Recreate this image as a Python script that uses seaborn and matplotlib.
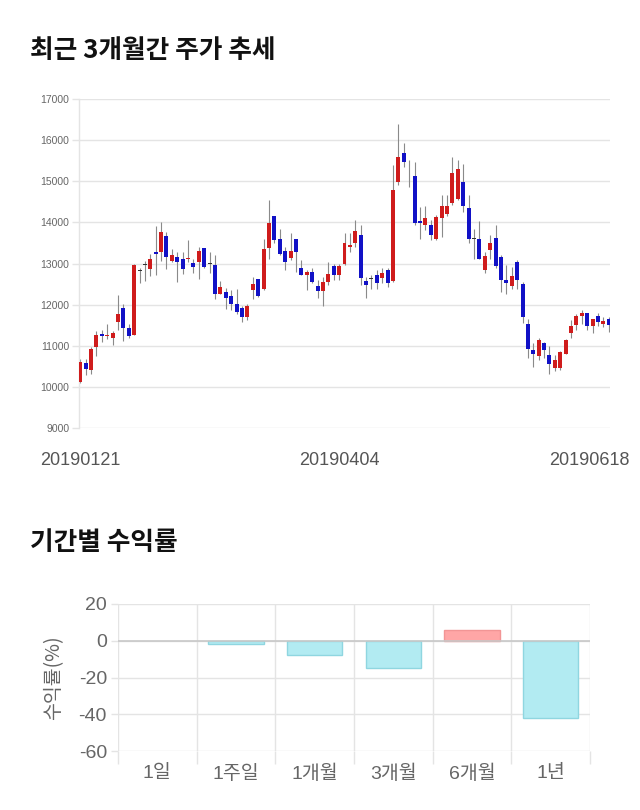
import matplotlib
matplotlib.use("Agg")
import matplotlib.pyplot as plt
import seaborn as sns
import numpy as np
import pandas as pd

# ---------------- data ----------------
opens = [10120, 10570, 10420, 10980, 11280, 11230, 11180, 11570, 11920, 11420,
         11270, 12820, 12970, 12860, 13270, 13270, 13660, 13050, 13170, 13110,
         13100, 13010, 13030, 13370, 12990, 12960, 12270, 12310, 12220, 12010,
         11910, 11710, 12360, 12620, 12390, 13380, 14150, 13590, 13300, 13140,
         13590, 12900, 12730, 12790, 12450, 12340, 12540, 12940, 12720, 12990,
         13390, 13490, 13690, 12580, 12630, 12730, 12640, 12840, 12580, 14990,
         15680, 15290, 15130, 14030, 13930, 13930, 13590, 14100, 14200, 14480,
         14580, 14990, 14340, 13590, 13590, 12840, 13340, 13630, 13150, 12600,
         12450, 13040, 12500, 11540, 10890, 10750, 11060, 10770, 10450, 10450,
         10800, 11300, 11500, 11730, 11790, 11480, 11730, 11540, 11640]
highs = [10680, 10680, 10960, 11370, 11380, 11520, 11360, 12230, 12010, 11530,
         12990, 12900, 13070, 13230, 13920, 14020, 13760, 13350, 13270, 13270,
         13580, 13110, 13390, 13380, 13270, 13210, 12580, 12400, 12360, 12380,
         11970, 12010, 12660, 12630, 13590, 14540, 14150, 13850, 13410, 13750,
         13600, 13080, 12840, 12880, 12610, 12680, 13040, 12990, 12990, 13750,
         13730, 14060, 13930, 12680, 12720, 12840, 12880, 12880, 15390, 16390,
         15920, 15520, 15480, 14380, 14400, 14060, 14180, 14660, 14660, 15600,
         15520, 15430, 14660, 13850, 14040, 13290, 13690, 13930, 13200, 12960,
         12920, 13080, 12560, 11640, 11070, 11200, 11100, 10990, 10770, 10880,
         11170, 11620, 11760, 11880, 11790, 11660, 11790, 11700, 11700]
lows = [10100, 10300, 10310, 10760, 11080, 11160, 11030, 11390, 11120, 11200,
        11250, 12520, 12580, 12700, 12720, 13070, 12870, 13030, 12540, 12740,
        13040, 12780, 12620, 12880, 12770, 12140, 12260, 11900, 11860, 11770,
        11570, 11630, 12140, 12190, 12350, 13100, 13490, 13200, 12840, 13080,
        12800, 12720, 12350, 12520, 12150, 11960, 12470, 12600, 12600, 12960,
        13290, 13410, 12470, 12150, 12390, 12390, 12520, 12430, 12560, 14910,
        15350, 14870, 13930, 13590, 13810, 13570, 13570, 13650, 14150, 14420,
        14540, 14260, 13490, 13120, 13100, 12760, 13120, 12880, 12310, 12260,
        12390, 12390, 11560, 10690, 10490, 10650, 10690, 10310, 10390, 10420,
        10790, 11200, 11380, 11530, 11380, 11300, 11480, 11450, 11340]
closes = [10600, 10430, 10920, 11270, 11230, 11260, 11320, 11770, 11420, 11230,
          12970, 12820, 12970, 13120, 13220, 13760, 13170, 13210, 13030, 12870,
          13130, 12920, 13310, 12910, 12990, 12270, 12420, 12160, 12010, 11810,
          11710, 11970, 12500, 12210, 13350, 13990, 13570, 13230, 13040, 13300,
          13290, 12730, 12800, 12550, 12340, 12540, 12740, 12730, 12940, 13490,
          13450, 13790, 12640, 12470, 12630, 12530, 12770, 12530, 14790, 15580,
          15480, 15290, 13980, 13990, 14100, 13690, 14140, 14400, 14400, 15190,
          15290, 14400, 13590, 13590, 13120, 13190, 13490, 12940, 12600, 12530,
          12690, 12600, 11700, 10930, 10800, 11150, 10890, 10550, 10650, 10840,
          11150, 11490, 11730, 11790, 11480, 11640, 11580, 11600, 11500]
x_tick_labels = ["20190121", "20190404", "20190618"]
price_ticks = [9000, 10000, 11000, 12000, 13000, 14000, 15000, 16000, 17000]

periods = ["1일", "1주일", "1개월", "3개월", "6개월", "1년"]
returns = [0.0, -1.8, -8.0, -14.7, 6.0, -42.0]

# ---------------- style ----------------
sns.set_theme(style="white")
plt.rcParams['font.family'] = ['Liberation Sans', 'Noto Sans CJK KR', 'DejaVu Sans']
plt.rcParams['axes.unicode_minus'] = False

W, H = 640, 810
fig = plt.figure(figsize=(W / 100, H / 100), dpi=100)

RED = '#cf1c1c'
BLUE = '#1111c6'
GRID = '#e4e4e4'
TXT = '#666666'

# ---------------- candlestick chart ----------------
df = pd.DataFrame({"o": opens, "h": highs, "l": lows, "c": closes})
df["i"] = np.arange(len(df))
df["bottom"] = df[["o", "c"]].min(axis=1)
df["height"] = (df["c"] - df["o"]).abs().clip(lower=18)
df["color"] = np.where(df["c"] > df["o"], RED, np.where(df["c"] < df["o"], BLUE, '#333333'))

ax1 = fig.add_axes([79 / W, 1 - 428 / H, 531 / W, 329 / H])
ax1.vlines(df["i"], df["l"], df["h"], color='#8a8a8a', linewidth=0.8, zorder=2)
ax1.bar(df["i"], df["height"], bottom=df["bottom"], width=0.74,
        color=df["color"], linewidth=0, zorder=3)
ax1.set_ylim(9000, 17000)
ax1.set_xlim(-0.22, len(df) - 1 + 0.22)
ax1.set_yticks(price_ticks)
ax1.set_yticklabels([str(v) for v in price_ticks])
ax1.set_xticks([0, 48, 94.4])
ax1.set_xticklabels(x_tick_labels)
ax1.grid(axis='y', color=GRID, linewidth=1)
ax1.set_axisbelow(True)
for s in ['top', 'right', 'bottom']:
    ax1.spines[s].set_visible(False)
ax1.spines['left'].set_color(GRID)
ax1.spines['left'].set_linewidth(1)
ax1.tick_params(axis='y', length=5, width=1, color=GRID, pad=2,
                labelsize=7.5, labelcolor=TXT, left=True)
ax1.tick_params(axis='x', length=0, pad=17, labelsize=13, labelcolor='#555555')

fig.text(30 / W, 1 - 50 / H, "최근 3개월간 주가 추세", fontsize=18.5, fontweight='bold',
         va='center', ha='left', color='#111111',
         family=['Noto Sans CJK KR', 'DejaVu Sans'])

# ---------------- returns bar chart ----------------
ax2 = fig.add_axes([118 / W, 1 - 751 / H, 472 / W, 147 / H])
bar_colors = ['#ffa6a6' if v > 0 else '#b2ebf2' for v in returns]
edge_colors = ['#f29595' if v > 0 else ('#8fd6e0' if v < 0 else 'none') for v in returns]
rdf = pd.DataFrame({"period": periods, "ret": returns})
sns.barplot(data=rdf, x="period", y="ret", hue="period", palette=bar_colors,
            legend=False, ax=ax2, width=0.7, saturation=1)
for p, ec in zip(ax2.patches, edge_colors):
    p.set_edgecolor(ec)
    p.set_linewidth(1)
ax2.set_ylim(-60, 20)
ax2.set_xlim(-0.5, len(periods) - 0.5)
ax2.set_yticks([-60, -40, -20, 0, 20])
ax2.set_xticks(np.arange(-0.5, len(periods), 1), minor=True)
ax2.grid(axis='y', which='major', color=GRID, linewidth=1)
ax2.grid(axis='x', which='minor', color=GRID, linewidth=1)
ax2.grid(axis='x', which='major', visible=False)
ax2.axhline(0, color='#c8c8c8', linewidth=1.2, zorder=1)
ax2.set_axisbelow(True)
for s in ax2.spines.values():
    s.set_visible(False)
ax2.tick_params(axis='y', length=5, width=1, color=GRID, pad=3,
                labelsize=14, labelcolor=TXT, left=True)
ax2.tick_params(axis='x', which='major', length=0, pad=10, labelsize=14, labelcolor=TXT)
ax2.tick_params(axis='x', which='minor', length=9, width=1, color=GRID, bottom=True)
ax2.set_xlabel("")
ax2.set_ylabel("수익률(%)", fontsize=14, color=TXT, labelpad=10,
               family=['Noto Sans CJK KR', 'DejaVu Sans'])

fig.text(30 / W, 1 - 543 / H, "기간별 수익률", fontsize=18.5, fontweight='bold',
         va='center', ha='left', color='#111111',
         family=['Noto Sans CJK KR', 'DejaVu Sans'])

fig.savefig("out.png", dpi=100, facecolor='white')
